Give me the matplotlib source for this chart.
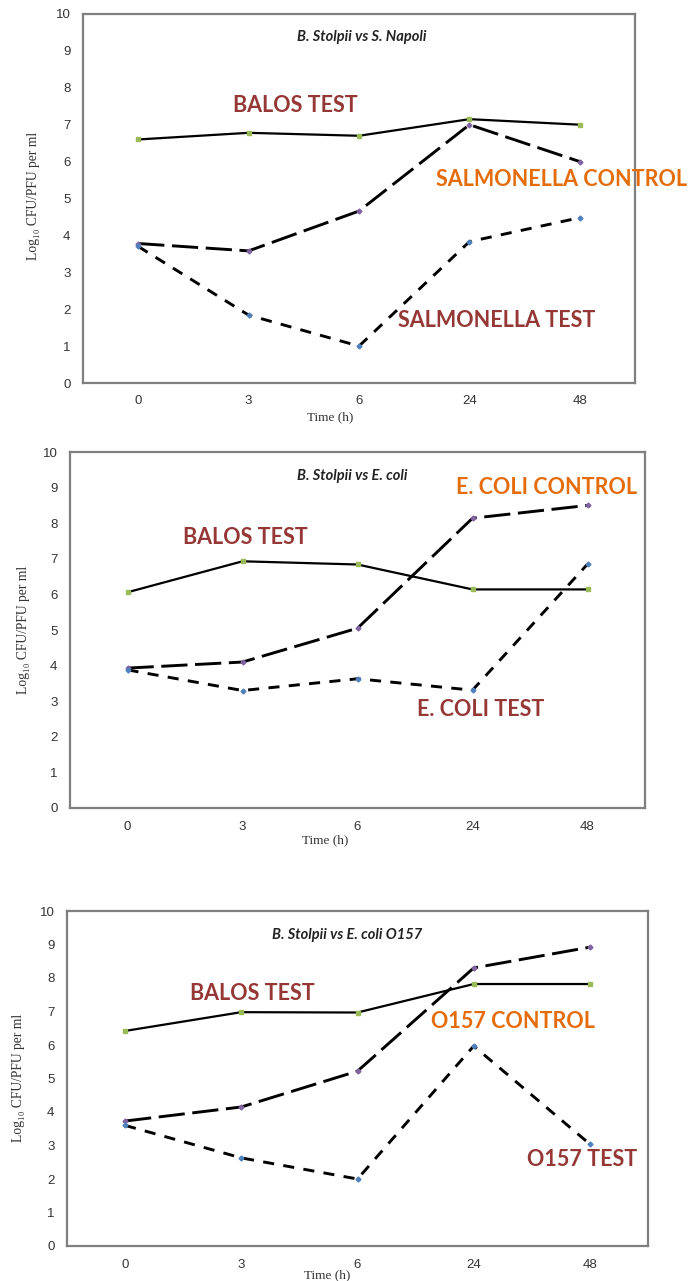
import matplotlib.pyplot as plt

# sampling times (h) and log10 counts for each challenge
times = ["0", "3", "6", "24", "48"]
y_ticks = list(range(0, 11))

napoli_balos = [6.6, 6.78, 6.7, 7.15, 7.0]
napoli_control = [3.78, 3.58, 4.66, 7.0, 6.0]
napoli_test = [3.7, 1.84, 1.0, 3.83, 4.48]

coli_balos = [6.06, 6.93, 6.84, 6.14, 6.14]
coli_control = [3.93, 4.1, 5.05, 8.14, 8.5]
coli_test = [3.88, 3.3, 3.63, 3.31, 6.85]

o157_balos = [6.42, 6.98, 6.97, 7.82, 7.82]
o157_control = [3.73, 4.15, 5.22, 8.3, 8.92]
o157_test = [3.6, 2.63, 2.0, 5.97, 3.04]

titles = ["B. Stolpii vs S. Napoli", "B. Stolpii vs E. coli", "B. Stolpii vs E. coli O157"]
control_labels = ["SALMONELLA CONTROL", "E. COLI CONTROL", "O157 CONTROL"]
test_labels = ["SALMONELLA TEST", "E. COLI TEST", "O157 TEST"]

W, H = 693, 1281
RED = "#953735"
ORANGE = "#E46C0A"

fig = plt.figure(figsize=(W / 100, H / 100), dpi=100)


def px_rect(left, top, right, bottom):
    return [left / W, 1 - bottom / H, (right - left) / W, (bottom - top) / H]


def fig_xy(x, y):
    return x / W, 1 - y / H


panels = [
    dict(rect=(83, 14, 635, 383), data=(napoli_balos, napoli_control, napoli_test),
         title=(362, 37), balos=(295, 106), control=(562, 180), test=(497, 320),
         ylab=(33, 196), xlab=(330, 417)),
    dict(rect=(70, 452, 645, 808), data=(coli_balos, coli_control, coli_test),
         title=(352, 476), balos=(245, 537), control=(547, 488), test=(481, 710),
         ylab=(24, 630), xlab=(325, 840)),
    dict(rect=(67, 911, 648, 1246), data=(o157_balos, o157_control, o157_test),
         title=(347, 935), balos=(252, 993), control=(513, 1022), test=(582, 1160),
         ylab=(19, 1078), xlab=(327, 1275)),
]

for i, p in enumerate(panels):
    ax = fig.add_axes(px_rect(*p["rect"]))
    balos, control, test = p["data"]
    x = range(len(times))

    ax.plot(x, balos, color="black", lw=1.6, marker="s", ms=2.5,
            mfc="#9BBB59", mec="#9BBB59", zorder=3)
    ax.plot(x, control, color="black", lw=2.1, dashes=(9, 2.6), marker="D", ms=2.5,
            mfc="#8064A2", mec="#8064A2", zorder=3)
    ax.plot(x, test, color="black", lw=2.1, dashes=(3.8, 3.2), marker="D", ms=2.5,
            mfc="#4F81BD", mec="#4F81BD", zorder=3)

    ax.set_xlim(-0.5, 4.5)
    ax.set_ylim(0, 10)
    ax.set_xticks(list(x))
    ax.set_xticklabels(times)
    ax.set_yticks(y_ticks)
    ax.tick_params(length=0, labelsize=9.5, colors="#333333", pad=9)
    for lbl in ax.get_xticklabels() + ax.get_yticklabels():
        lbl.set_family("Liberation Sans")
    for s in ax.spines.values():
        s.set_color("#7f7f7f")
        s.set_linewidth(1.6)

    tx, ty = fig_xy(*p["title"])
    fig.text(tx, ty, titles[i], ha="center", va="center", fontsize=10.5,
             fontweight="bold", style="italic", family="Lato", color="#222222")

    for key, txt, col in [("balos", "BALOS TEST", RED),
                          ("control", control_labels[i], ORANGE),
                          ("test", test_labels[i], RED)]:
        bx, by = fig_xy(*p[key])
        fig.text(bx, by, txt, ha="center", va="center", fontsize=15.5,
                 fontweight="bold", family="Lato", color=col)

    lx, ly = fig_xy(*p["ylab"])
    fig.text(lx, ly, "Log₁₀ CFU/PFU per ml", rotation=90, ha="center", va="center",
             fontsize=9.8, family=["Liberation Serif", "DejaVu Serif"], color="#333333")
    xx, xy = fig_xy(*p["xlab"])
    fig.text(xx, xy, "Time (h)", ha="center", va="center", fontsize=9.5,
             family="Liberation Serif", color="#333333")

fig.savefig("out.png", dpi=100)
